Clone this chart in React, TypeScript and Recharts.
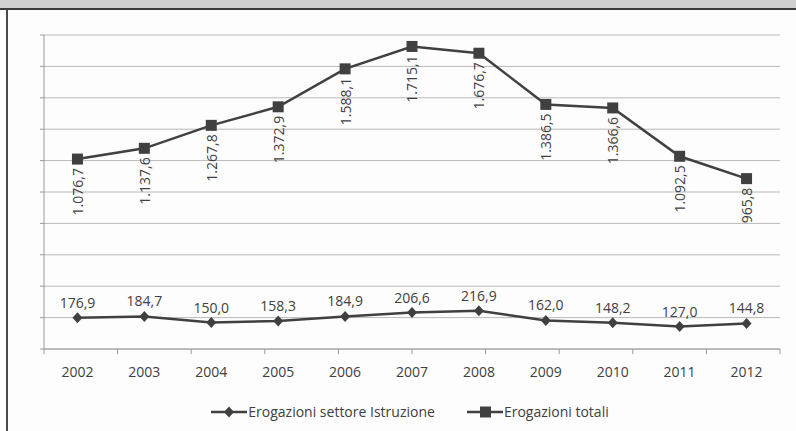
import { LineChart, Line, XAxis, YAxis, CartesianGrid, LabelList, Legend } from 'recharts';

// anni e valori (milioni di euro)
const anni = ['2002', '2003', '2004', '2005', '2006', '2007', '2008', '2009', '2010', '2011', '2012'];
const istruzione = [176.9, 184.7, 150.0, 158.3, 184.9, 206.6, 216.9, 162.0, 148.2, 127.0, 144.8];
const totali = [1076.7, 1137.6, 1267.8, 1372.9, 1588.1, 1715.1, 1676.7, 1386.5, 1366.6, 1092.5, 965.8];

// griglia senza etichette: 10 intervalli
const yTicks = [0, 178, 356, 534, 712, 890, 1068, 1246, 1424, 1602, 1780];
// confini delle categorie (tacche dell'asse x tra un anno e l'altro)
const bordiCategorie = [0, 1, 2, 3, 4, 5, 6, 7, 8, 9, 10, 11];

const data = anni.map((anno, i) => ({ anno, istruzione: istruzione[i], totali: totali[i] }));

const INK = '#404040';
const AXIS = '#9a9a9a';
const FONT = '"Open Sans", "Noto Sans", sans-serif';

// formato italiano: 1.076,7
const fmt = (v: number) => {
  const [int, dec] = v.toFixed(1).split('.');
  return int.replace(/\B(?=(\d{3})+(?!\d))/g, '.') + ',' + dec;
};

const Quadrato = (p: any) => {
  if (p.cx == null || p.cy == null) return <g key={p.index} />;
  return <rect key={p.index} x={p.cx - 5.5} y={p.cy - 5.5} width={11} height={11} fill={INK} />;
};

const Rombo = (p: any) => {
  if (p.cx == null || p.cy == null) return <g key={p.index} />;
  const { cx, cy } = p;
  return <polygon key={p.index} points={`${cx},${cy - 5.5} ${cx + 5},${cy} ${cx},${cy + 5.5} ${cx - 5},${cy}`} fill={INK} />;
};

// etichette ruotate sotto i punti della serie totale
const EtichettaVerticale = (p: any) => {
  const x = Number(p.x);
  const y = Number(p.y) + 9;
  return (
    <text x={x} y={y} transform={`rotate(-90, ${x}, ${y})`} textAnchor="end" dominantBaseline="central"
      fontSize={14} fill={INK} fontFamily={FONT}>
      {fmt(Number(p.value))}
    </text>
  );
};

const LegendaIcona = ({ tipo }: { tipo: string }) => (
  <svg width={36} height={12} style={{ display: 'block' }}>
    <line x1={0} y1={6} x2={36} y2={6} stroke={INK} strokeWidth={2.5} />
    {tipo === 'totali'
      ? <rect x={13} y={0.5} width={11} height={11} fill={INK} />
      : <polygon points="18,0.5 23,6 18,11.5 13,6" fill={INK} />}
  </svg>
);

const Legenda = ({ payload }: any) => (
  <div style={{ height: 44, paddingTop: 22, boxSizing: 'border-box', display: 'flex', justifyContent: 'center', gap: 32 }}>
    {(payload || []).map((e: any) => (
      <div key={e.value} style={{ display: 'flex', alignItems: 'center', gap: 1 }}>
        <LegendaIcona tipo={e.dataKey} />
        <span style={{ fontSize: 14, color: INK, fontFamily: FONT, lineHeight: '16px' }}>{e.value}</span>
      </div>
    ))}
  </div>
);

export default function App() {
  return (
    <div style={{ position: 'absolute', left: 0, top: 0, width: 796, height: 431, background: '#fdfdfd', fontFamily: FONT }}>
      <div style={{ position: 'absolute', left: 0, top: 0, width: 796, height: 431 }}>
        <LineChart width={796} height={431} data={data} margin={{ top: 35, right: 16, left: 40, bottom: 8 }}>
          <CartesianGrid horizontal vertical={false} stroke="#b9b9b9" strokeWidth={1} />
          <YAxis width={4} domain={[0, 1780]} ticks={yTicks} tickFormatter={() => ''}
            tickSize={4} tickLine={{ stroke: AXIS }} axisLine={{ stroke: AXIS }} />
          <XAxis xAxisId="a" type="number" domain={[0, 11]} ticks={bordiCategorie} height={5}
            tickFormatter={() => ''} tickSize={5} tickLine={{ stroke: AXIS }} axisLine={{ stroke: AXIS }} />
          <XAxis xAxisId="b" dataKey="anno" scale="band" height={25} axisLine={false} tickLine={false}
            tickSize={8} tickMargin={5} interval={0} tick={{ fontSize: 14, fill: INK, fontFamily: FONT }} />
          <Legend verticalAlign="bottom" height={44} content={(props: any) => <Legenda payload={props.payload} />} />
          <Line xAxisId="b" dataKey="istruzione" name="Erogazioni settore Istruzione" stroke={INK} strokeWidth={2.5}
            dot={Rombo} activeDot={false} isAnimationActive={false}>
            <LabelList dataKey="istruzione" position="top" offset={10} formatter={(v: any) => fmt(Number(v))}
              style={{ fontSize: 14, fill: INK, fontFamily: FONT }} />
          </Line>
          <Line xAxisId="b" dataKey="totali" name="Erogazioni totali" stroke={INK} strokeWidth={2.5}
            dot={Quadrato} activeDot={false} isAnimationActive={false}>
            <LabelList dataKey="totali" content={EtichettaVerticale} />
          </Line>
        </LineChart>
      </div>
      <div style={{ position: 'absolute', left: 0, top: 0, width: 796, height: 8, background: '#d0d0d0' }} />
      <div style={{ position: 'absolute', left: 0, top: 8, width: 796, height: 2, background: '#3a3a3a' }} />
      <div style={{ position: 'absolute', left: 6, top: 10, width: 2, height: 421, background: '#4a4a4a' }} />
    </div>
  );
}
